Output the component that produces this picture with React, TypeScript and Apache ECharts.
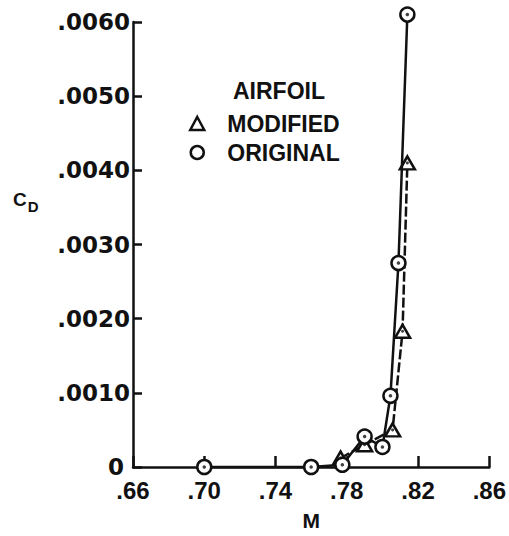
import React, { useEffect, useRef } from "react";
import * as echarts from "echarts";

// Tick labels
const xTickLabels = [".66", ".70", ".74", ".78", ".82", ".86"];
const yTickLabels = ["0", ".0010", ".0020", ".0030", ".0040", ".0050", ".0060"];
const xOrigin = 0.66; // Mach number at the left end of the axis

// Series: airfoil ORIGINAL (circles)
const machOriginal = [0.7, 0.76, 0.7775, 0.79, 0.8, 0.8045, 0.809, 0.814];
const cdOriginal = [0, 0, 0.00003, 0.00041, 0.00027, 0.00096, 0.00275, 0.0061];

// Series: airfoil MODIFIED (triangles)
const machModified = [0.7765, 0.79, 0.8057, 0.8113, 0.814];
const cdModified = [0.00012, 0.0003, 0.0005, 0.00183, 0.0041];

const toPts = (m: number[], c: number[]) =>
  m.map((v, i) => [Math.round((v - xOrigin) * 10000) / 100, c[i]]);

const INK = "#111";
const SANS = "'Liberation Sans', Arial, sans-serif";
const WIDE = "'DejaVu Sans', sans-serif";

export default function App() {
  const ref = useRef<HTMLDivElement>(null);
  useEffect(() => {
    if (!ref.current) return;
    const chart = echarts.init(ref.current, null, { renderer: "svg" });
    const modPts = toPts(machModified, cdModified);
    const orgPts = toPts(machOriginal, cdOriginal);
    chart.setOption({
      animation: false,
      backgroundColor: "#fff",
      grid: { left: 133, right: 19, top: 22, bottom: 66 },
      xAxis: {
        type: "value",
        min: 0,
        max: 20,
        interval: 4,
        name: "M",
        nameLocation: "middle",
        nameGap: 43,
        nameTextStyle: { fontFamily: SANS, fontWeight: "bold", fontSize: 21, color: INK },
        axisLine: { lineStyle: { color: INK, width: 2.5 } },
        axisTick: { inside: true, length: 11, lineStyle: { color: INK, width: 2.5 } },
        axisLabel: {
          margin: 12,
          fontFamily: SANS,
          fontWeight: "bold",
          fontSize: 24,
          lineHeight: 22,
          color: INK,
          formatter: (_v: number, i: number) => xTickLabels[i],
        },
        splitLine: { show: false },
      },
      yAxis: {
        type: "value",
        min: 0,
        max: 0.006,
        interval: 0.001,
        axisLine: { show: true, lineStyle: { color: INK, width: 2.5 } },
        axisTick: { show: true, inside: true, length: 9, lineStyle: { color: INK, width: 2.5 } },
        axisLabel: {
          margin: 3,
          fontFamily: WIDE,
          fontWeight: "bold",
          fontSize: 23,
          lineHeight: 20,
          color: INK,
          formatter: (_v: number, i: number) =>
            i === 0 ? "{z|" + yTickLabels[i] + "}" : yTickLabels[i],
          rich: {
            z: {
              fontFamily: WIDE,
              fontWeight: "bold",
              fontSize: 23,
              lineHeight: 18,
              color: INK,
              padding: [0, 6, 0, 0],
            },
          },
        },
        splitLine: { show: false },
      },
      legend: {
        orient: "vertical",
        left: 184,
        top: 107,
        itemWidth: 14,
        itemHeight: 13,
        itemGap: 6,
        itemStyle: { color: "#fff", borderColor: INK, borderWidth: 2.5 },
        textStyle: {
          fontFamily: SANS,
          fontWeight: "bold",
          fontSize: 23,
          color: INK,
          padding: [0, 0, 0, 18],
        },
        data: [
          { name: "MODIFIED", icon: "triangle" },
          { name: "ORIGINAL", icon: "circle" },
        ],
      },
      graphic: [
        {
          type: "text",
          left: 233,
          top: 79,
          style: {
            text: "AIRFOIL",
            fontFamily: SANS,
            fontWeight: "bold",
            fontSize: 23,
            fill: INK,
          },
        },
        {
          type: "text",
          left: 13,
          top: 190,
          style: {
            text: "C{s|D}",
            fontFamily: SANS,
            fontWeight: "bold",
            fontSize: 19,
            fill: INK,
            rich: {
              s: { fontFamily: SANS, fontWeight: "bold", fontSize: 15, fill: INK, padding: [14, 0, 0, 1] },
            },
          },
        },
      ],
      series: [
        {
          name: "MODIFIED",
          type: "line",
          data: modPts,
          clip: false,
          symbol: "triangle",
          symbolSize: [15, 13],
          lineStyle: { color: INK, width: 2.5, type: [10, 3] },
          itemStyle: { color: "#fff", borderColor: INK, borderWidth: 2.5 },
          z: 2,
        },
        {
          name: "ORIGINAL",
          type: "line",
          data: orgPts,
          clip: false,
          symbol: "circle",
          symbolSize: 14,
          lineStyle: { color: INK, width: 2.5 },
          itemStyle: { color: "#fff", borderColor: INK, borderWidth: 2.5 },
          z: 3,
        },
        {
          name: "modDots",
          type: "scatter",
          data: modPts,
          clip: false,
          symbol: "circle",
          symbolSize: 3,
          silent: true,
          itemStyle: { color: INK },
          z: 4,
        },
        {
          name: "orgDots",
          type: "scatter",
          data: orgPts,
          clip: false,
          symbol: "circle",
          symbolSize: 3.5,
          silent: true,
          itemStyle: { color: INK },
          z: 5,
        },
      ],
    });
    return () => chart.dispose();
  }, []);
  return (
    <div
      ref={ref}
      style={{ position: "fixed", left: 0, top: 0, width: 509, height: 536 }}
    />
  );
}
